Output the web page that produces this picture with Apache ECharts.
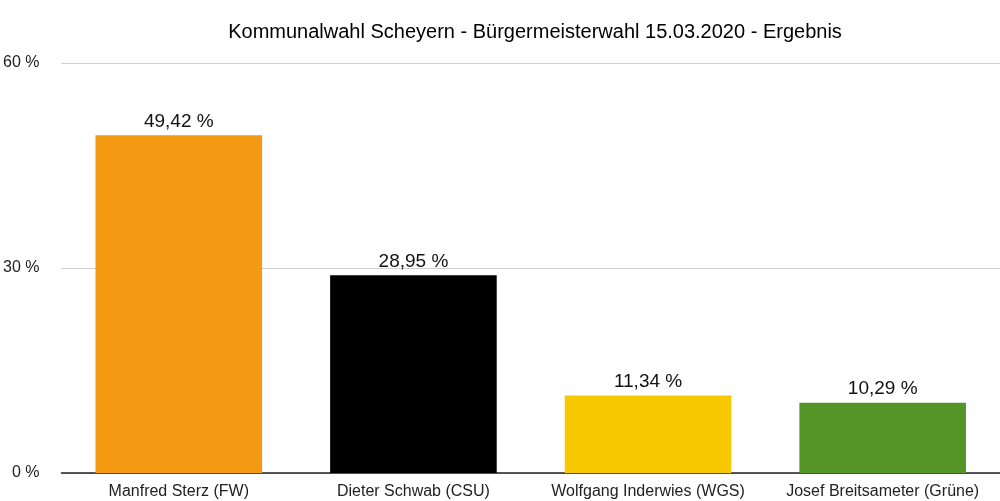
<!DOCTYPE html>
<html><head><meta charset="utf-8">
<script src="https://cdn.jsdelivr.net/npm/echarts@6/dist/echarts.min.js"></script>
<style>html,body{margin:0;padding:0;background:#fff}#c{width:1000px;height:501px}</style>
</head><body><div id="c"></div>
<script>
const categories = ["Manfred Sterz (FW)", "Dieter Schwab (CSU)", "Wolfgang Inderwies (WGS)", "Josef Breitsameter (Grüne)"];
const values = [49.42, 28.95, 11.34, 10.29];
const colors = ["#F39A12", "#000000", "#F8C800", "#559427"];
const yTicks = [0, 30, 60];

const chart = echarts.init(document.getElementById('c'));
const F = "'Liberation Sans', Arial, Helvetica, sans-serif";
chart.setOption({
  animation: false,
  title: { text: "Kommunalwahl Scheyern - Bürgermeisterwahl 15.03.2020 - Ergebnis", left: 530, textAlign: 'center', top: 17,
    textStyle: { fontFamily: F, fontSize: 20, fontWeight: 'normal', color: '#000' } },
  grid: { left: 60, right: 0, top: 63, bottom: 28 },
  xAxis: { type: 'category', data: categories,
    axisLine: { lineStyle: { color: '#222', width: 1.5 } }, axisTick: { show: false },
    axisLabel: { interval: 0, fontFamily: F, fontSize: 16, color: '#222', margin: 11 } },
  yAxis: { type: 'value', min: yTicks[0], max: yTicks[yTicks.length-1], interval: 30,
    axisLine: { show: false }, axisTick: { show: false },
    splitLine: { lineStyle: { color: '#d0d0d0', width: 1 } },
    axisLabel: { fontFamily: F, fontSize: 16, color: '#222', margin: 22, formatter: v => v + ' %' } },
  series: [{ type: 'bar', barWidth: '71%',
    data: values.map((v, i) => ({ value: v, itemStyle: { color: colors[i] } })),
    label: { show: true, position: 'top', distance: 4, fontFamily: F, fontSize: 19, color: '#111',
      formatter: p => p.value.toFixed(2).replace('.', ',') + ' %' } }]
});
</script></body></html>
